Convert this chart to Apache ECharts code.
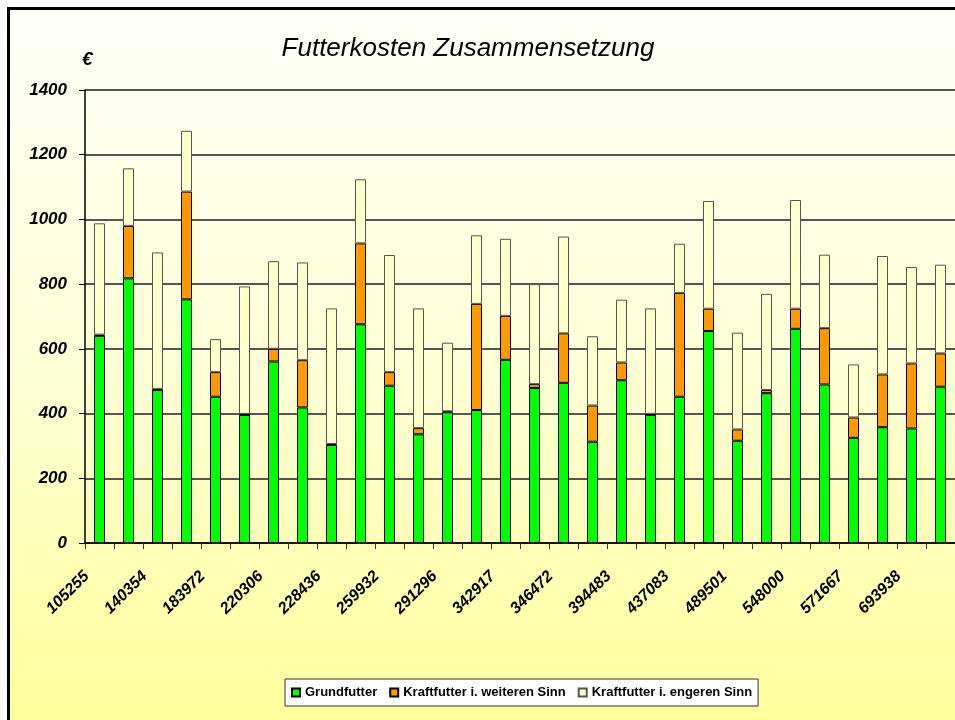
<!DOCTYPE html>
<html>
<head>
<meta charset="utf-8">
<script src="https://cdn.jsdelivr.net/npm/echarts@6/dist/echarts.min.js"></script>
<style>
html,body{margin:0;padding:0;background:#fff;}
#chart{width:955px;height:720px;}
</style>
</head>
<body>
<div id="chart"></div>
<script>
// tick labels (only every second category is labelled in the reference)
var categoryLabels = ['105255','','140354','','183972','','220306','','228436','',
                      '259932','','291296','','342917','','346472','','394483','',
                      '437083','','489501','','548000','','571667','','693938',''];
var grundfutter = [640,818,473,753,452,396,561,419,303,676,
                   486,336,404,411,566,479,495,313,503,396,
                   452,655,316,463,662,490,325,358,354,483];
var kraftWeiter = [4,162,3,333,76,3,39,146,3,250,
                   42,19,3,328,136,12,153,112,55,3,
                   321,69,35,10,62,174,63,163,201,103];
var kraftEnger = [344,178,422,188,102,394,271,302,419,198,
                  362,370,212,212,238,309,299,214,194,326,
                  152,333,299,297,336,227,164,366,298,274];
var yTicks = {min:0, max:1400, interval:200};

// unique keys for the category axis, labels shown through formatter
var categoryKeys = categoryLabels.map(function(l,i){ return 'c'+i; });

var chart = echarts.init(document.getElementById('chart'));
var FONT = 'Liberation Sans, Arial, sans-serif';
chart.setOption({
  animation:false,
  backgroundColor:'#ffffff',
  graphic:[{
    type:'rect', z:-10, silent:true,
    shape:{x:8.5,y:8.5,width:960,height:730},
    style:{
      fill:new echarts.graphic.LinearGradient(0,0,0,1,[
        {offset:0,color:'#FFFFF8'},
        {offset:0.5,color:'#FFFFD6'},
        {offset:1,color:'#FFFF99'}
      ]),
      stroke:'#000', lineWidth:3
    }
  },{
    type:'text', left:82, top:50, z:10,
    style:{text:'€', font:'italic bold 19px '+FONT, fill:'#000'}
  }],
  title:{
    text:'Futterkosten Zusammensetzung',
    left:463, top:31, textAlign:'center',
    textStyle:{fontFamily:FONT, fontStyle:'italic', fontWeight:'normal', fontSize:26, color:'#000'}
  },
  legend:{
    data:['Grundfutter','Kraftfutter i. weiteren Sinn','Kraftfutter i. engeren Sinn'],
    left:285, top:679,
    backgroundColor:'#ffffff', borderColor:'#333', borderWidth:1,
    padding:[7,6,7,6],
    itemWidth:8, itemHeight:8, itemGap:12,
    icon:'rect',
    textStyle:{fontFamily:FONT, fontWeight:'bold', fontSize:13, color:'#000'}
  },
  grid:{left:85, top:90, width:874, height:453},
  xAxis:{
    type:'category', data:categoryKeys,
    axisLine:{lineStyle:{color:'#000', width:1.5}},
    axisTick:{show:true, interval:0, length:6, lineStyle:{color:'#333'}},
    axisLabel:{interval:0, rotate:45, margin:18, padding:[0,18,0,0],
      formatter:function(v, idx){ return categoryLabels[idx]; },
      fontFamily:FONT, fontStyle:'italic', fontWeight:'bold', fontSize:16, color:'#000'}
  },
  yAxis:{
    type:'value', min:yTicks.min, max:yTicks.max, interval:yTicks.interval,
    axisLine:{show:true, lineStyle:{color:'#000', width:1.5}},
    axisTick:{show:true, length:6, lineStyle:{color:'#000'}},
    axisLabel:{margin:18, formatter:function(v){ return String(v); },
      fontFamily:FONT, fontStyle:'italic', fontWeight:'bold', fontSize:17, color:'#000'},
    splitLine:{lineStyle:{color:'#555', width:2}}
  },
  series:[
    {name:'Grundfutter', type:'bar', stack:'t', data:grundfutter, barWidth:11,
     itemStyle:{color:'#00FF00', borderColor:'#000', borderWidth:1}},
    {name:'Kraftfutter i. weiteren Sinn', type:'bar', stack:'t', data:kraftWeiter, barWidth:11,
     itemStyle:{color:'#FF9900', borderColor:'#000', borderWidth:1}},
    {name:'Kraftfutter i. engeren Sinn', type:'bar', stack:'t', data:kraftEnger, barWidth:11,
     itemStyle:{color:'#FFFFCC', borderColor:'#555', borderWidth:1}}
  ]
});
</script>
</body>
</html>
